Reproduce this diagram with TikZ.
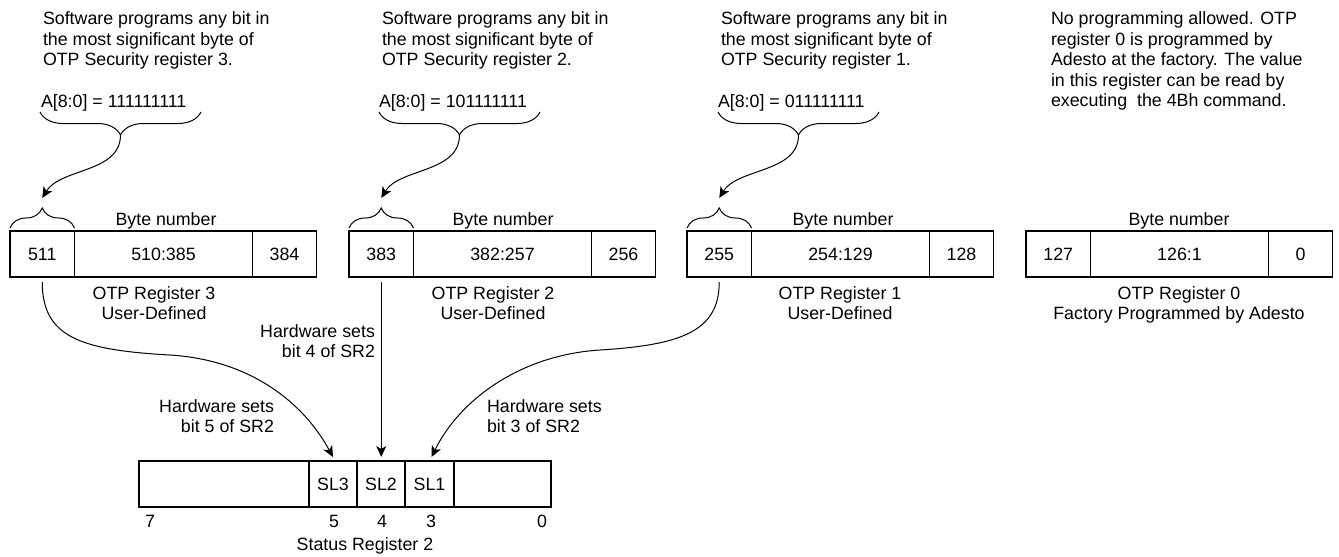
\documentclass[tikz,border=0pt]{standalone}
\usepackage{fontspec}
\setmainfont{Liberation Sans}
\usetikzlibrary{decorations.pathreplacing,arrows.meta}
\newcommand\mytl[1]{\begin{tabular}[t]{@{}l@{}}#1\end{tabular}}
\newcommand\mytr[1]{\begin{tabular}[t]{@{}r@{}}#1\end{tabular}}
\newcommand\mytc[1]{\begin{tabular}[t]{@{}c@{}}#1\end{tabular}}
\begin{document}
\begin{tikzpicture}[x=1pt,y=-1pt,
  every node/.style={inner sep=0pt, outer sep=0pt, font=\fontsize{17.8}{20.5}\selectfont},
  cell/.style={draw, line width=1.1pt, minimum height=46pt, anchor=north west},
  arr/.style={line width=1pt, -{Stealth[length=11pt,width=10pt,inset=3pt]}},
  brc/.style={line width=1pt, decorate, decoration={brace, amplitude=#1}},
  brc/.default=23pt,
  lbl/.style={anchor=base west},
]
\useasboundingbox (0,0) rectangle (1339,557);

% ---------- Register 3 ----------
\node[cell, minimum width=64.5pt] (r3a) at (10,231) {511};
\node[cell, minimum width=178pt]  (r3b) at (74.5,231) {510:385};
\node[cell, minimum width=64pt]   (r3c) at (252.5,231) {384};
% ---------- Register 2 ----------
\node[cell, minimum width=64.5pt] (r2a) at (349,231) {383};
\node[cell, minimum width=178pt]  (r2b) at (413.5,231) {382:257};
\node[cell, minimum width=64pt]   (r2c) at (591.5,231) {256};
% ---------- Register 1 ----------
\node[cell, minimum width=64.5pt] (r1a) at (687,231) {255};
\node[cell, minimum width=178pt]  (r1b) at (751.5,231) {254:129};
\node[cell, minimum width=64pt]   (r1c) at (929.5,231) {128};
% ---------- Register 0 ----------
\node[cell, minimum width=64.5pt] (r0a) at (1026,231) {127};
\node[cell, minimum width=178pt]  (r0b) at (1090.5,231) {126:1};
\node[cell, minimum width=64pt]   (r0c) at (1268.5,231) {0};

% Byte number labels
\node[anchor=base] (bn3) at (166,225) {Byte number};
\node[anchor=base] (bn2) at (503,225) {Byte number};
\node[anchor=base] (bn1) at (843,225) {Byte number};
\node[anchor=base] (bn0) at (1179,225) {Byte number};

% Register captions
\node[anchor=base] (c3) at (154,299) {\mytc{OTP Register 3\\User-Defined}};
\node[anchor=base] (c2) at (493,299) {\mytc{OTP Register 2\\User-Defined}};
\node[anchor=base] (c1) at (840,299) {\mytc{OTP Register 1\\User-Defined}};
\node[anchor=base] (c0) at (1179,299) {\mytc{OTP Register 0\\Factory Programmed by Adesto}};

% Top texts
\node[lbl] (t3) at (43,24.5) {\mytl{Software programs any bit in\\the most significant byte of\\OTP Security register 3.}};
\node[lbl] (t2) at (382,24.5) {\mytl{Software programs any bit in\\the most significant byte of\\OTP Security register 2.}};
\node[lbl] (t1) at (721,24.5) {\mytl{Software programs any bit in\\the most significant byte of\\OTP Security register 1.}};
\node[lbl] (t0) at (1051,24.5) {\mytl{No programming allowed. OTP\\register 0 is programmed by\\Adesto at the factory. The value\\in this register can be read by\\executing\ \ the 4Bh command.}};

\node[lbl] (a3) at (41,107) {A[8:0] = 111111111};
\node[lbl] (a2) at (379,107) {A[8:0] = 101111111};
\node[lbl] (a1) at (718,107) {A[8:0] = 011111111};

% Big braces
\draw[brc] (201,112) -- (40,112);
\draw[brc] (540,112) -- (379,112);
\draw[brc] (879,112) -- (718,112);
\coordinate (b3) at (120.5,135);
\coordinate (b2) at (459.5,135);
\coordinate (b1) at (798.5,135);

% Small braces above MSB cells
\draw[brc=20pt] ([yshift=3pt]r3a.north west) -- ([yshift=3pt]r3a.north east);
\draw[brc=20pt] ([yshift=3pt]r2a.north west) -- ([yshift=3pt]r2a.north east);
\draw[brc=20pt] ([yshift=3pt]r1a.north west) -- ([yshift=3pt]r1a.north east);
\coordinate (s3) at ([yshift=33pt]r3a.north);
\coordinate (s2) at ([yshift=33pt]r2a.north);
\coordinate (s1) at ([yshift=33pt]r1a.north);

% Arrows from big brace to small brace
\draw[arr] (b3) .. controls +(0,38) and +(18,-30) .. (s3);
\draw[arr] (b2) .. controls +(0,38) and +(18,-30) .. (s2);
\draw[arr] (b1) .. controls +(0,38) and +(18,-30) .. (s1);

% ---------- Status Register 2 ----------
\node[cell, minimum width=170pt] (sr7) at (139,461) {};
\node[cell, minimum width=48pt]  (sl3) at (309,461) {SL3};
\node[cell, minimum width=48pt]  (sl2) at (357,461) {SL2};
\node[cell, minimum width=49pt]  (sl1) at (405,461) {SL1};
\node[cell, minimum width=97pt]  (sr0) at (454,461) {};

\node[anchor=base] (n7) at (150,527) {7};
\node[anchor=base] (n5) at (334,527) {5};
\node[anchor=base] (n4) at (382,527) {4};
\node[anchor=base] (n3) at (431,527) {3};
\node[anchor=base] (n0) at (542,527) {0};
\node[anchor=base] (srl) at (365,550) {Status Register 2};

% Hardware labels
\node[anchor=base east] (h4) at (375,337) {\mytr{Hardware sets\\bit 4 of SR2}};
\node[anchor=base east] (h5) at (274,412) {\mytr{Hardware sets\\bit 5 of SR2}};
\node[anchor=base west] (h3) at (487,412) {\mytl{Hardware sets\\bit 3 of SR2}};

% Hardware arrows
\draw[arr] ([yshift=-5pt]r3a.south) .. controls +(0,55) and +(-90,-5) .. (170,355)
           .. controls +(80,5) and +(-30,-55) .. ([yshift=4pt]sl3.north);
\draw[arr] ([yshift=-5pt]r2a.south) -- ([yshift=4pt]r2a.south |- sl2.north);
\draw[arr] ([yshift=-5pt]r1a.south) .. controls +(0,50) and +(80,-5) .. (600,350)
           .. controls +(-80,5) and +(28,-57) .. ([xshift=2pt,yshift=4pt]sl1.north);
\end{tikzpicture}
\end{document}
